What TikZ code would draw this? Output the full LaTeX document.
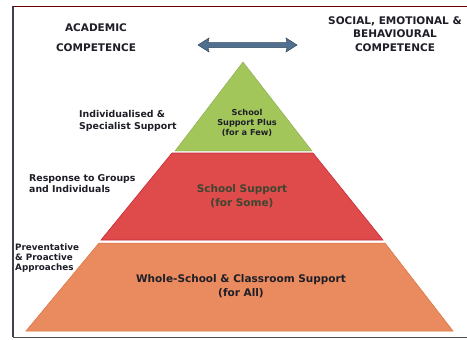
\documentclass[tikz,border=0pt]{standalone}
\usepackage{fontspec}
\setmainfont{DejaVu Sans}
\definecolor{lvgreen}{HTML}{A2C65A}
\definecolor{lvred}{HTML}{DF4B4B}
\definecolor{lvredline}{HTML}{C8283A}
\definecolor{lvorange}{HTML}{E98B5E}
\definecolor{lvorangeline}{HTML}{D9703F}
\definecolor{arrowblue}{HTML}{51708F}
\definecolor{arrowedge}{HTML}{34495E}
\definecolor{inktext}{HTML}{1E1E28}
\definecolor{olivetext}{HTML}{3C4630}
\tikzset{
  header/.style={font=\bfseries\fontsize{10.5}{13.5}\selectfont, text=inktext, align=center, inner sep=0pt},
  sidelabel/.style={font=\bfseries\fontsize{9.4}{11}\selectfont, text=inktext, align=left, anchor=west, inner sep=0pt},
  tiertext/.style={font=\bfseries, text=inktext, align=center, inner sep=0pt},
}
\begin{document}
\begin{tikzpicture}[x=1pt,y=-1pt]
\useasboundingbox (0,0) rectangle (467,340);
\fill[white] (0,0) rectangle (467,340);
% frame
\draw[line width=1.2pt, color=inktext!85] (13,337) -- (13,6);
\draw[line width=0.8pt, color=red!40!black] (13,6) -- (467,6);
\draw[line width=0.8pt, color=black!70] (13,337) -- (467,337);
% headers
\node[header, font=\bfseries\fontsize{10.5}{20}\selectfont] (academic) at (96,38) {ACADEMIC\\COMPETENCE};
\node[header] (social) at (395,34) {SOCIAL, EMOTIONAL \&\\BEHAVIOURAL\\COMPETENCE};
% side labels
\node[sidelabel, font=\bfseries\fontsize{9.4}{12}\selectfont] (indiv) at (79,121) {Individualised \&\\Specialist Support};
\node[sidelabel] (resp) at (29,183.5) {Response to Groups\\and Individuals};
\node[sidelabel, font=\bfseries\fontsize{8.8}{9.8}\selectfont] (prev) at (15,258) {Preventative\\\& Proactive\\Approaches};
% double arrow
\filldraw[fill=arrowblue, draw=arrowedge, line width=0.5pt]
  (198,45) -- (209,38) -- (208,42.5) -- (287,42.5) -- (286,38) -- (297,45)
  -- (286,52) -- (287,47.5) -- (208,47.5) -- (209,52) -- cycle;
% pyramid
\filldraw[fill=lvgreen, draw=lvgreen!85!black, line width=0.4pt] (243,62) -- (312,151) -- (175,151) -- cycle;
\filldraw[fill=lvred, draw=lvredline, line width=0.6pt] (172,153) -- (313,153) -- (383,240) -- (101,240) -- cycle;
\filldraw[fill=lvorange, draw=lvorangeline, line width=0.5pt] (99,243) -- (385,243) -- (453,331) -- (26,331) -- cycle;
% tier texts
\node[tiertext, font=\bfseries\fontsize{8.2}{10}\selectfont] (plus) at (247,123) {School\\Support Plus\\(for a Few)};
\node[tiertext, font=\bfseries\fontsize{10.5}{14}\selectfont, text=olivetext] (some) at (242,196) {School Support\\(for Some)};
\node[tiertext, font=\bfseries\fontsize{10.5}{14}\selectfont] (all) at (241,286) {Whole-School \& Classroom Support\\(for All)};
\end{tikzpicture}
\end{document}
